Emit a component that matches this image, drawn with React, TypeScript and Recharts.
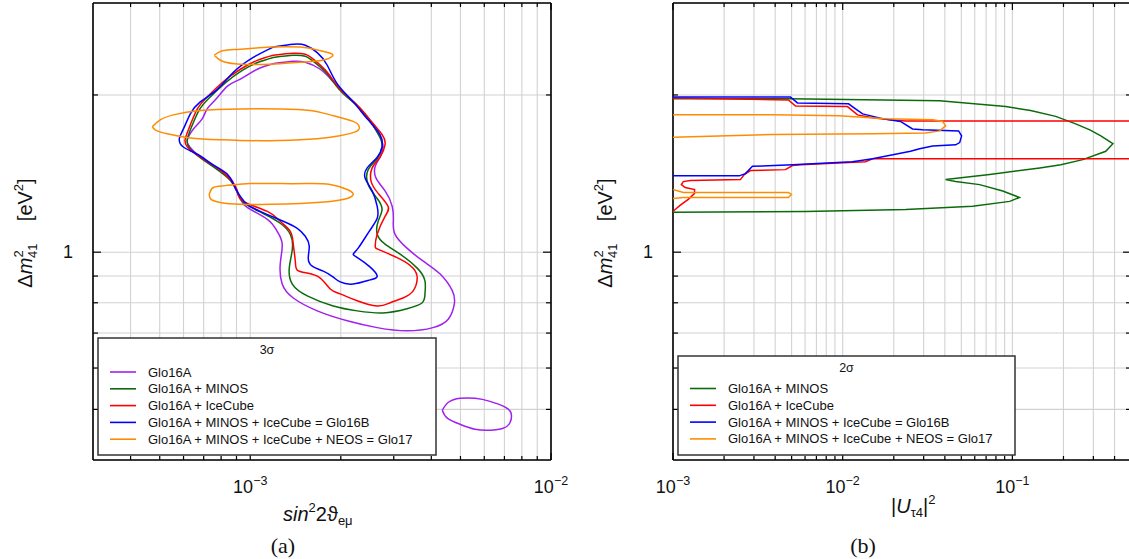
import React from 'react';
import { ScatterChart, Scatter, XAxis, YAxis, CartesianGrid } from 'recharts';

const SANS = '"Liberation Sans", Arial, Helvetica, sans-serif';
const SERIF = '"Liberation Serif", "DejaVu Serif", serif';

const COLORS = { purple: '#a020f0', green: '#0b6b0b', red: '#ff0000', blue: '#0000ff', orange: '#ff8c00' };

// ---------- panel (a): sin^2 2theta_emu vs dm41^2, 3 sigma ----------
const xTicksA = [4e-4, 5e-4, 6e-4, 7e-4, 8e-4, 9e-4, 1e-3, 2e-3, 3e-3, 4e-3, 5e-3, 6e-3, 7e-3, 8e-3, 9e-3, 1e-2];
const yTicks = [0.5, 0.6, 0.7, 0.8, 0.9, 1, 2];

const purple3 = [[0.001211,2.30],[0.00139,2.32],[0.001524,2.31],[0.001709,2.24],[0.001888,2.12],[0.002069,2.01],[0.002268,1.905],[0.002505,1.78],[0.0027,1.66],[0.002764,1.59],[0.0027,1.52],[0.002603,1.46],[0.00262,1.386],[0.002807,1.31],[0.002965,1.224],[0.00299,1.146],[0.00303,1.082],[0.00332,1.018],[0.00376,0.961],[0.00428,0.908],[0.0047,0.843],[0.00477,0.796],[0.00456,0.745],[0.00405,0.717],[0.00332,0.707],[0.002643,0.717],[0.002101,0.739],[0.00167,0.772],[0.00139,0.817],[0.001277,0.869],[0.001258,0.949],[0.001277,1.036],[0.001229,1.096],[0.00114,1.156],[0.000977,1.218],[0.000927,1.267],[0.000893,1.324],[0.000859,1.386],[0.000765,1.452],[0.000682,1.52],[0.000622,1.606],[0.000622,1.66],[0.000647,1.722],[0.000692,1.80],[0.000719,1.881],[0.000771,1.966],[0.00084,2.08],[0.000927,2.145],[0.001055,2.24]];
const purpleIsland = [[0.00435,0.498],[0.00456,0.516],[0.00499,0.525],[0.00559,0.525],[0.00627,0.518],[0.00704,0.505],[0.00737,0.491],[0.00731,0.472],[0.00693,0.46],[0.00627,0.456],[0.00559,0.458],[0.00499,0.468],[0.00452,0.481]];
const green3 = [[0.001192,2.36],[0.00139,2.383],[0.001524,2.372],[0.00162,2.32],[0.001803,2.195],[0.001991,2.04],[0.002268,1.905],[0.002505,1.78],[0.0027,1.66],[0.002743,1.59],[0.002643,1.51],[0.002467,1.439],[0.002467,1.347],[0.002643,1.267],[0.002743,1.207],[0.002663,1.146],[0.002643,1.082],[0.002807,1.036],[0.00315,0.991],[0.00359,0.932],[0.00381,0.881],[0.00381,0.832],[0.00373,0.80],[0.00332,0.779],[0.002764,0.765],[0.002268,0.772],[0.001888,0.789],[0.001547,0.825],[0.00138,0.869],[0.001348,0.932],[0.00138,1.013],[0.001359,1.082],[0.001258,1.136],[0.001105,1.186],[0.000948,1.245],[0.000906,1.301],[0.000859,1.371],[0.000777,1.439],[0.000682,1.517],[0.000627,1.585],[0.000618,1.649],[0.000642,1.753],[0.000677,1.873],[0.00073,1.974],[0.000826,2.11],[0.000941,2.23],[0.001063,2.31]];
const red3 = [[0.001192,2.383],[0.00139,2.404],[0.001524,2.393],[0.00162,2.342],[0.001803,2.21],[0.001991,2.05],[0.002268,1.914],[0.002505,1.792],[0.002743,1.68],[0.002807,1.606],[0.0027,1.52],[0.002543,1.45],[0.002524,1.365],[0.002663,1.296],[0.002871,1.224],[0.002807,1.171],[0.002643,1.082],[0.002603,1.027],[0.0027,1.009],[0.00315,0.970],[0.00348,0.932],[0.00359,0.892],[0.00348,0.843],[0.00322,0.817],[0.00292,0.80],[0.002643,0.789],[0.002268,0.807],[0.001991,0.832],[0.001845,0.85],[0.001709,0.892],[0.001547,0.912],[0.001433,0.924],[0.001412,0.961],[0.00139,1.036],[0.001359,1.096],[0.001258,1.146],[0.00114,1.197],[0.000948,1.251],[0.000906,1.31],[0.000859,1.377],[0.000777,1.45],[0.000682,1.52],[0.000618,1.59],[0.000608,1.649],[0.000632,1.753],[0.000667,1.881],[0.000719,1.982],[0.000813,2.12],[0.000927,2.24],[0.001055,2.33]];
const blue3 = [[0.001192,2.47],[0.00139,2.50],[0.001524,2.49],[0.00167,2.41],[0.001803,2.28],[0.001947,2.10],[0.002199,1.94],[0.002448,1.80],[0.0027,1.68],[0.002743,1.59],[0.002643,1.52],[0.002448,1.45],[0.00241,1.386],[0.002543,1.31],[0.002643,1.224],[0.002643,1.161],[0.002486,1.096],[0.002285,1.018],[0.002199,0.991],[0.002285,0.974],[0.002505,0.936],[0.002643,0.900],[0.002505,0.885],[0.002199,0.869],[0.001991,0.877],[0.001888,0.896],[0.001749,0.920],[0.001607,0.940],[0.001559,0.975],[0.001571,1.027],[0.001524,1.073],[0.001433,1.111],[0.001287,1.146],[0.00108,1.197],[0.000977,1.235],[0.000927,1.279],[0.000879,1.347],[0.00084,1.41],[0.000753,1.47],[0.000667,1.54],[0.000599,1.59],[0.000581,1.65],[0.000599,1.72],[0.000632,1.84],[0.000682,1.94],[0.000777,2.05],[0.000879,2.21],[0.001023,2.36]];
const orange3Top = [[0.000759,2.383],[0.000808,2.43],[0.000927,2.447],[0.001165,2.47],[0.001466,2.47],[0.001683,2.437],[0.001845,2.404],[0.001873,2.372],[0.001736,2.33],[0.001466,2.31],[0.001165,2.29],[0.000927,2.29],[0.000808,2.32]];
const orange3Mid = [[0.000473,1.74],[0.000502,1.792],[0.000555,1.832],[0.000682,1.868],[0.000927,1.881],[0.001258,1.881],[0.001583,1.868],[0.001845,1.832],[0.002199,1.78],[0.002302,1.74],[0.002233,1.70],[0.001845,1.66],[0.001466,1.642],[0.00108,1.635],[0.000795,1.642],[0.000632,1.655],[0.00053,1.685],[0.000483,1.715]];
const orange3Low = [[0.00073,1.29],[0.000753,1.33],[0.000826,1.341],[0.001,1.353],[0.001258,1.353],[0.001583,1.353],[0.001845,1.347],[0.002101,1.318],[0.002199,1.29],[0.002101,1.267],[0.001845,1.251],[0.001466,1.24],[0.001165,1.235],[0.000927,1.235],[0.000795,1.245],[0.000741,1.262]];

// ---------- panel (b): |U_tau4|^2 vs dm41^2, 2 sigma ----------
const xTicksB = [1e-3, 2e-3, 3e-3, 4e-3, 5e-3, 6e-3, 7e-3, 8e-3, 9e-3, 1e-2, 2e-2, 3e-2, 4e-2, 5e-2, 6e-2, 7e-2, 8e-2, 9e-2, 0.1, 0.2, 0.3, 0.4];

const green2 = [[0.001,1.966],[0.00485,1.966],[0.0373,1.949],[0.0913,1.90],[0.128,1.868],[0.180,1.82],[0.236,1.761],[0.286,1.715],[0.332,1.67],[0.391,1.613],[0.355,1.56],[0.260,1.504],[0.193,1.47],[0.145,1.45],[0.0735,1.408],[0.0404,1.377],[0.0463,1.365],[0.0641,1.347],[0.0877,1.31],[0.110,1.273],[0.0964,1.251],[0.0583,1.224],[0.0235,1.207],[0.00603,1.197],[0.001,1.192]];
const red2Upper = [[0.001,1.974],[0.00195,1.966],[0.00479,1.957],[0.00527,1.905],[0.01067,1.90],[0.01223,1.832],[0.015,1.808],[0.0189,1.792],[0.0235,1.784],[0.5,1.784]];
const red2Lower = [[0.5,1.51],[0.015,1.51],[0.0136,1.49],[0.00564,1.47],[0.00506,1.465],[0.0046,1.439],[0.00286,1.433],[0.00263,1.408],[0.002495,1.377],[0.001265,1.371],[0.00115,1.365],[0.00112,1.347],[0.00118,1.33],[0.00134,1.318],[0.00134,1.296],[0.00123,1.262],[0.0011,1.229],[0.00103,1.207],[0.001,1.197]];
const blue2 = [[0.001,1.982],[0.00492,1.982],[0.00541,1.931],[0.01082,1.923],[0.0119,1.881],[0.0131,1.84],[0.0174,1.80],[0.0219,1.78],[0.0258,1.722],[0.0296,1.715],[0.0482,1.707],[0.0502,1.67],[0.0489,1.621],[0.0463,1.605],[0.0339,1.597],[0.0284,1.578],[0.0251,1.56],[0.015,1.51],[0.0114,1.49],[0.00506,1.47],[0.00294,1.46],[0.00267,1.414],[0.00246,1.40],[0.001,1.40]];
const orange2Big = [[0.001,1.832],[0.00385,1.832],[0.00957,1.824],[0.0179,1.80],[0.0339,1.792],[0.0388,1.78],[0.0404,1.746],[0.0373,1.707],[0.0308,1.692],[0.015,1.685],[0.00385,1.68],[0.001,1.66]];
const orange2Small = [[0.001,1.318],[0.00115,1.301],[0.00479,1.301],[0.00498,1.29],[0.00479,1.273],[0.00115,1.273],[0.001,1.267]];

const legendA = [
  { label: 'Glo16A', color: COLORS.purple },
  { label: 'Glo16A + MINOS', color: COLORS.green },
  { label: 'Glo16A + IceCube', color: COLORS.red },
  { label: 'Glo16A + MINOS + IceCube = Glo16B', color: COLORS.blue },
  { label: 'Glo16A + MINOS + IceCube + NEOS = Glo17', color: COLORS.orange },
];
const legendB = legendA.slice(1);

const pts = (arr: number[][], close = false) => {
  const p = arr.map(([x, y]) => ({ x, y }));
  return close ? [...p, p[0]] : p;
};

const isDecade = (v: number) => Math.abs(Math.log10(v) - Math.round(Math.log10(v))) < 1e-6;
const NoDot = () => <g />;

const makeTick = (side: string, labels: boolean) => (props: any) => {
  const { x, y, payload } = props;
  const v = payload.value;
  const major = isDecade(v);
  if (side === 'bottom' || side === 'top') {
    const len = major ? 7 : 4;
    const e = Math.round(Math.log10(v));
    const dir = side === 'bottom' ? -1 : 1;
    return (
      <g>
        <line x1={x} x2={x} y1={y} y2={y + dir * len} stroke="#000" strokeWidth={1.2} />
        {labels && major && side === 'bottom' && (
          <text x={x} y={y + 33} textAnchor="middle" fontFamily={SANS} fontSize={18} fill="#111">
            10<tspan dy={-8} fontSize={12.5}>{'\u2212' + -e}</tspan>
          </text>
        )}
      </g>
    );
  }
  const len = major ? 8 : 5;
  const dir = side === 'left' ? 1 : -1;
  return (
    <g>
      <line x1={x} x2={x + dir * len} y1={y} y2={y} stroke="#000" strokeWidth={1.2} />
      {labels && major && side === 'left' && (
        <text x={x - 20} y={y} dy="0.35em" textAnchor="end" fontFamily={SANS} fontSize={18} fill="#111">
          {String(v)}
        </text>
      )}
    </g>
  );
};

const line = (c: string) => ({ stroke: c, strokeWidth: 1.5 });

function App() {
  const axisLine = { stroke: '#000', strokeWidth: 1.6 };
  const axesCommon = (xDomain: number[], xTicks: number[]) => [
    <CartesianGrid key="g" stroke="#d2d2d2" strokeWidth={1.1} />,
    <XAxis key="xb" dataKey="x" type="number" scale="log" domain={xDomain} allowDataOverflow ticks={xTicks} interval={0} height={1} tickSize={0} tickMargin={0} tickLine={false} axisLine={axisLine} tick={makeTick('bottom', true)} />,
    <XAxis key="xt" xAxisId="top" orientation="top" dataKey="x" type="number" scale="log" domain={xDomain} allowDataOverflow ticks={xTicks} interval={0} height={1} tickSize={0} tickMargin={0} tickLine={false} axisLine={axisLine} tick={makeTick('top', false)} />,
    <YAxis key="yl" dataKey="y" type="number" scale="log" domain={[0.4, 3]} allowDataOverflow ticks={yTicks} interval={0} width={1} tickSize={0} tickMargin={0} tickLine={false} axisLine={axisLine} tick={makeTick('left', true)} />,
    <YAxis key="yr" yAxisId="right" orientation="right" dataKey="y" type="number" scale="log" domain={[0.4, 3]} allowDataOverflow ticks={yTicks} interval={0} width={1} tickSize={0} tickMargin={0} tickLine={false} axisLine={axisLine} tick={makeTick('right', false)} />,
  ];
  const S = (key: string, data: any[], color: string, smooth = false) => (
    <Scatter key={key} data={data} line={line(color)} lineJointType={smooth ? 'natural' : 'linear'} shape={NoDot} legendType="none" isAnimationActive={false} />
  );

  const legendBox = (left: number, top: number, w: number, h: number, title: string, items: any[], y0: number) => (
    <g>
      <rect x={left} y={top} width={w} height={h} fill="#fff" stroke="#333" strokeWidth={1.5} />
      <text x={left + w / 2} y={top + 12} dy="0.35em" textAnchor="middle" fontFamily={SANS} fontSize={12.5} fill="#111">{title}</text>
      {items.map((it, i) => (
        <g key={it.label}>
          <line x1={left + 12} x2={left + 38} y1={y0 + i * 16.8} y2={y0 + i * 16.8} stroke={it.color} strokeWidth={1.6} />
          <text x={left + 50} y={y0 + i * 16.8} dy="0.35em" fontFamily={SANS} fontSize={13} fill="#111">{it.label}</text>
        </g>
      ))}
    </g>
  );

  const yLabel = (bx: number) => (
    <text transform={`translate(${bx},233) rotate(-90)`} textAnchor="middle" fontFamily={SANS} fontSize={20} fill="#111">
      {'\u0394'}<tspan fontStyle="italic">m</tspan>
      <tspan fontSize={13} dy={-9}>2</tspan>
      <tspan fontSize={13} dx={-7.5} dy={14}>41</tspan>
      <tspan dy={-5}>{'\u00a0\u00a0\u00a0\u00a0[eV'}</tspan>
      <tspan fontSize={13} dy={-9}>2</tspan>
      <tspan dy={9}>]</tspan>
    </text>
  );

  return (
    <div style={{ position: 'fixed', left: 0, top: 0, width: 1129, height: 559, overflow: 'hidden', background: '#fff' }}>
      <div style={{ position: 'absolute', left: 0, top: 0 }}>
        <ScatterChart width={570} height={559} margin={{ top: 2, left: 92, right: 18, bottom: 98 }}>
          {axesCommon([3e-4, 1e-2], xTicksA)}
          {S('p', pts(purple3, true), COLORS.purple, true)}
          {S('pi', pts(purpleIsland, true), COLORS.purple, true)}
          {S('g', pts(green3, true), COLORS.green, true)}
          {S('r', pts(red3, true), COLORS.red, true)}
          {S('b', pts(blue3, true), COLORS.blue, true)}
          {S('o1', pts(orange3Top, true), COLORS.orange, true)}
          {S('o2', pts(orange3Mid, true), COLORS.orange, true)}
          {S('o3', pts(orange3Low, true), COLORS.orange, true)}
        </ScatterChart>
      </div>
      <div style={{ position: 'absolute', left: 600, top: 0 }}>
        <ScatterChart width={551} height={559} margin={{ top: 2, left: 72, right: 19, bottom: 98 }}>
          {axesCommon([1e-3, 0.5], xTicksB)}
          {S('g2', pts(green2), COLORS.green)}
          {S('r2a', pts(red2Upper), COLORS.red)}
          {S('r2b', pts(red2Lower), COLORS.red)}
          {S('b2', pts(blue2), COLORS.blue)}
          {S('o2a', pts(orange2Big), COLORS.orange)}
          {S('o2b', pts(orange2Small), COLORS.orange)}
        </ScatterChart>
      </div>
      <svg width={1129} height={559} style={{ position: 'absolute', left: 0, top: 0, pointerEvents: 'none' }}>
        {legendBox(98, 338, 338, 117, '3\u03c3', legendA, 372)}
        {legendBox(678, 356, 337, 99, '2\u03c3', legendB, 388.5)}
        {yLabel(32)}
        {yLabel(612)}
        <text x={283} y={521} fontFamily={SANS} fontSize={20} fill="#111">
          <tspan fontStyle="italic">sin</tspan>
          <tspan fontSize={13} dy={-9}>2</tspan>
          <tspan dy={9}>2{'\u03d1'}</tspan>
          <tspan fontSize={13} dy={4}>e{'\u03bc'}</tspan>
        </text>
        <text x={891} y={513} fontFamily={SANS} fontSize={20} fill="#111">
          |<tspan fontStyle="italic">U</tspan>
          <tspan fontSize={13} dy={4}>{'\u03c4'}4</tspan>
          <tspan dy={-4}>|</tspan>
          <tspan fontSize={13} dy={-9}>2</tspan>
        </text>
        <text x={283} y={553} textAnchor="middle" fontFamily={SERIF} fontSize={22} fill="#111">(a)</text>
        <text x={863} y={553} textAnchor="middle" fontFamily={SERIF} fontSize={22} fill="#111">(b)</text>
      </svg>
    </div>
  );
}

export default App;
